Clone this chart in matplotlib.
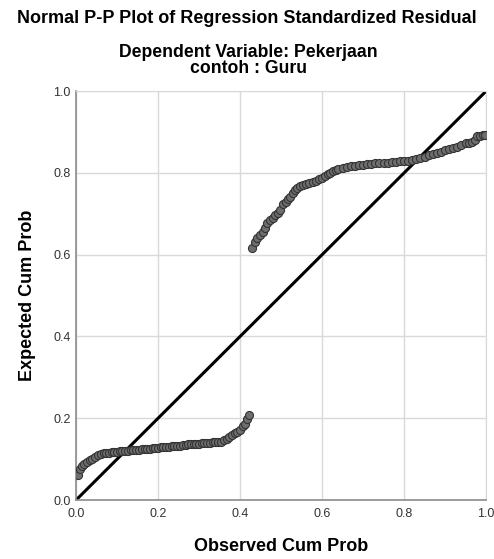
import matplotlib
matplotlib.use("Agg")
import matplotlib.pyplot as plt

# P-P plot : probabilité cumulée observée vs attendue (résidus standardisés)
obs_low = [0.005, 0.010, 0.015, 0.020, 0.027, 0.033, 0.040, 0.047, 0.053, 0.060,
           0.067, 0.073, 0.080, 0.087, 0.093, 0.100, 0.107, 0.113, 0.120, 0.127,
           0.133, 0.140, 0.147, 0.153, 0.160, 0.167, 0.173, 0.180, 0.187, 0.193,
           0.200, 0.207, 0.213, 0.220, 0.227, 0.233, 0.240, 0.247, 0.253, 0.260,
           0.267, 0.273, 0.280, 0.287, 0.293, 0.300, 0.307, 0.313, 0.320, 0.327,
           0.333, 0.340, 0.347, 0.353, 0.360, 0.367, 0.373, 0.380, 0.387, 0.393,
           0.400, 0.407, 0.413, 0.418, 0.422]
exp_low = [0.060, 0.075, 0.083, 0.088, 0.092, 0.097, 0.100, 0.106, 0.110, 0.112,
           0.114, 0.115, 0.116, 0.117, 0.117, 0.118, 0.119, 0.120, 0.120, 0.121,
           0.122, 0.122, 0.123, 0.123, 0.124, 0.125, 0.125, 0.126, 0.127, 0.127,
           0.128, 0.129, 0.129, 0.130, 0.130, 0.131, 0.131, 0.132, 0.133, 0.134,
           0.135, 0.136, 0.137, 0.137, 0.138, 0.138, 0.139, 0.139, 0.140, 0.140,
           0.141, 0.141, 0.142, 0.143, 0.146, 0.150, 0.155, 0.160, 0.163, 0.167,
           0.172, 0.180, 0.185, 0.197, 0.207]

obs_high = [0.430, 0.436, 0.442, 0.449, 0.455, 0.461, 0.466, 0.472, 0.480, 0.486,
            0.492, 0.498, 0.505, 0.511, 0.517, 0.522, 0.528, 0.534, 0.540, 0.547,
            0.554, 0.561, 0.568, 0.578, 0.585, 0.592, 0.600, 0.607, 0.614, 0.620,
            0.627, 0.634, 0.640, 0.650, 0.660, 0.670, 0.680, 0.690, 0.700, 0.710,
            0.720, 0.730, 0.740, 0.750, 0.760, 0.770, 0.780, 0.790, 0.800, 0.810,
            0.820, 0.830, 0.840, 0.850, 0.860, 0.870, 0.880, 0.890, 0.900, 0.910,
            0.920, 0.930, 0.940, 0.950, 0.958, 0.966, 0.974, 0.978, 0.985, 0.992,
            0.998]
exp_high = [0.617, 0.632, 0.640, 0.648, 0.656, 0.665, 0.678, 0.684, 0.690, 0.697,
            0.703, 0.709, 0.724, 0.730, 0.735, 0.740, 0.750, 0.758, 0.763, 0.767,
            0.770, 0.773, 0.775, 0.778, 0.781, 0.784, 0.788, 0.793, 0.797, 0.800,
            0.805, 0.808, 0.810, 0.812, 0.814, 0.816, 0.818, 0.819, 0.820, 0.821,
            0.822, 0.823, 0.823, 0.824, 0.825, 0.826, 0.827, 0.828, 0.829, 0.830,
            0.832, 0.834, 0.837, 0.840, 0.843, 0.845, 0.848, 0.851, 0.855, 0.858,
            0.860, 0.864, 0.868, 0.872, 0.874, 0.876, 0.880, 0.890, 0.891, 0.892,
            0.892]

ticks = [0.0, 0.2, 0.4, 0.6, 0.8, 1.0]

FONT = "Liberation Sans"
INK = "#000000"
TICK_INK = "#333333"
GRID = "#d9d9d9"

fig = plt.figure(figsize=(4.94, 5.59), dpi=100)
ax = fig.add_axes([0.154, 0.1055, 0.830, 0.7315])

ax.plot([0, 1], [0, 1], color=INK, linewidth=2.2, zorder=2)
ax.plot(obs_low + obs_high, exp_low + exp_high, linestyle="none", marker="o",
        markersize=5.8, markerfacecolor="#6e6e6e", markeredgecolor="#333333",
        markeredgewidth=0.8, zorder=3)

ax.set_xlim(0, 1)
ax.set_ylim(0, 1)
ax.set_xticks(ticks)
ax.set_yticks(ticks)
ax.set_xticklabels([f"{t:.1f}" for t in ticks], fontsize=9, color=TICK_INK, family=FONT)
ax.set_yticklabels([f"{t:.1f}" for t in ticks], fontsize=9, color=TICK_INK, family=FONT)
ax.tick_params(axis="x", length=0, pad=6)
ax.tick_params(axis="y", length=0, pad=4)
ax.grid(True, color=GRID, linewidth=1.0)
ax.set_axisbelow(True)
for side in ("top", "right"):
    ax.spines[side].set_color(GRID)
for side in ("left", "bottom"):
    ax.spines[side].set_color("#8c8c8c")
    ax.spines[side].set_linewidth(1.2)

ax.set_xlabel("Observed Cum Prob", fontsize=13, fontweight="bold", family=FONT,
              labelpad=13)
ax.set_ylabel("Expected Cum Prob", fontsize=13, fontweight="bold", family=FONT,
              labelpad=12)

fig.text(0.5, 0.967, "Normal P-P Plot of Regression Standardized Residual",
         ha="center", va="center", fontsize=13, fontweight="bold", family=FONT)
fig.text(0.503, 0.906, "Dependent Variable: Pekerjaan", ha="center", va="center",
         fontsize=12.7, fontweight="bold", family=FONT)
fig.text(0.503, 0.877, "contoh : Guru", ha="center", va="center",
         fontsize=12.7, fontweight="bold", family=FONT)

fig.savefig("out.png", dpi=100, facecolor="white")
